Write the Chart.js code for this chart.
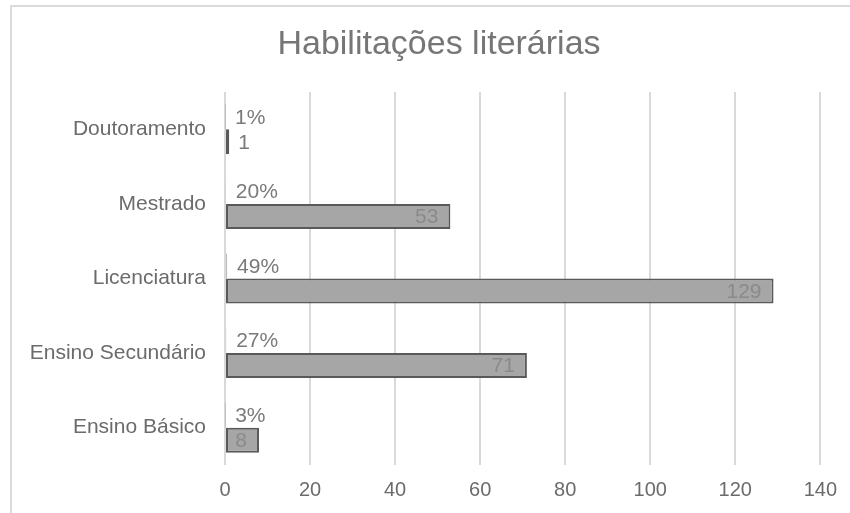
<!DOCTYPE html>
<html lang="pt">
<head>
<meta charset="utf-8">
<title>Habilitações literárias</title>
<script src="https://cdn.jsdelivr.net/npm/chart.js@4/dist/chart.umd.min.js"></script>
<style>
  html, body { margin: 0; padding: 0; background: #ffffff; }
  #wrap { position: relative; width: 850px; height: 513px; overflow: hidden; }
  canvas { display: block; }
</style>
</head>
<body>
<div id="wrap"><canvas id="chart" width="850" height="513"></canvas></div>
<script>
// Qualification levels, top to bottom
const categories = ['Doutoramento', 'Mestrado', 'Licenciatura', 'Ensino Secundário', 'Ensino Básico'];
// Number of people per level
const counts = [1, 53, 129, 71, 8];
// Share of the total, in percent
const percentShares = [1, 20, 49, 27, 3];
// Value axis range and step
const axisMin = 0;
const axisMax = 140;
const axisStep = 20;

const TITLE = 'Habilitações literárias';
const FONT = '"Liberation Sans", Arial, sans-serif';
const TEXT = '#6b6b6b';

// Light frame along the top and left edges, plus the chart heading
const framePlugin = {
  id: 'frame',
  beforeDraw(chart) {
    const ctx = chart.ctx;
    ctx.save();
    ctx.fillStyle = '#dadada';
    ctx.fillRect(10, 5, 2, chart.height - 5);
    ctx.fillRect(10, 5, chart.width - 10, 2);
    ctx.fillStyle = '#767676';
    ctx.font = '34px ' + FONT;
    ctx.textAlign = 'center';
    ctx.textBaseline = 'middle';
    ctx.fillText(TITLE, 439, 45);
    ctx.restore();
  }
};

// Value labels: percentages beside the thin bars, counts inside (or after) the grey bars
const valueLabels = {
  id: 'valueLabels',
  afterDatasetsDraw(chart) {
    const ctx = chart.ctx;
    ctx.save();
    ctx.font = '21px ' + FONT;
    ctx.textBaseline = 'middle';

    chart.getDatasetMeta(0).data.forEach((bar, i) => {
      ctx.fillStyle = '#7a7a7a';
      ctx.textAlign = 'left';
      ctx.fillText(percentShares[i] + '%', bar.x + 10, bar.y + 1);
    });

    chart.getDatasetMeta(1).data.forEach((bar, i) => {
      const text = String(counts[i]);
      const w = ctx.measureText(text).width;
      const len = bar.x - bar.base;
      if (len > w + 20) {
        ctx.fillStyle = '#8a8a8a';
        ctx.textAlign = 'right';
        ctx.fillText(text, bar.x - 12, bar.y + 1);
      } else {
        ctx.fillStyle = '#7a7a7a';
        ctx.textAlign = 'left';
        ctx.fillText(text, bar.x + 9, bar.y + 1);
      }
    });
    ctx.restore();
  }
};

new Chart(document.getElementById('chart'), {
  type: 'bar',
  data: {
    labels: categories,
    datasets: [
      {
        label: '%',
        data: percentShares.map(p => p / 100),
        backgroundColor: '#bdbdbd',
        borderWidth: 0
      },
      {
        label: 'N',
        data: counts,
        backgroundColor: '#a6a6a6',
        borderColor: '#595959',
        borderWidth: 2,
        borderSkipped: false
      }
    ]
  },
  options: {
    indexAxis: 'y',
    responsive: false,
    animation: false,
    devicePixelRatio: 1,
    datasets: {
      bar: { categoryPercentage: 0.67, barPercentage: 1.0 }
    },
    layout: { padding: { left: 0, right: 29, top: 92, bottom: 0 } },
    plugins: {
      legend: { display: false },
      tooltip: { enabled: false },
      title: { display: false }
    },
    scales: {
      x: {
        min: axisMin,
        max: axisMax,
        ticks: {
          stepSize: axisStep,
          color: TEXT,
          font: { family: FONT, size: 20 },
          padding: 13
        },
        grid: { color: '#d9d9d9', lineWidth: 2, drawTicks: false },
        border: { display: false },
        afterFit(scale) { scale.height = 48; }
      },
      y: {
        ticks: {
          color: TEXT,
          font: { family: FONT, size: 21 },
          padding: 19
        },
        grid: { display: false, drawTicks: false },
        border: { display: false },
        afterFit(scale) { scale.width = 225; }
      }
    }
  },
  plugins: [framePlugin, valueLabels]
});
</script>
</body>
</html>
